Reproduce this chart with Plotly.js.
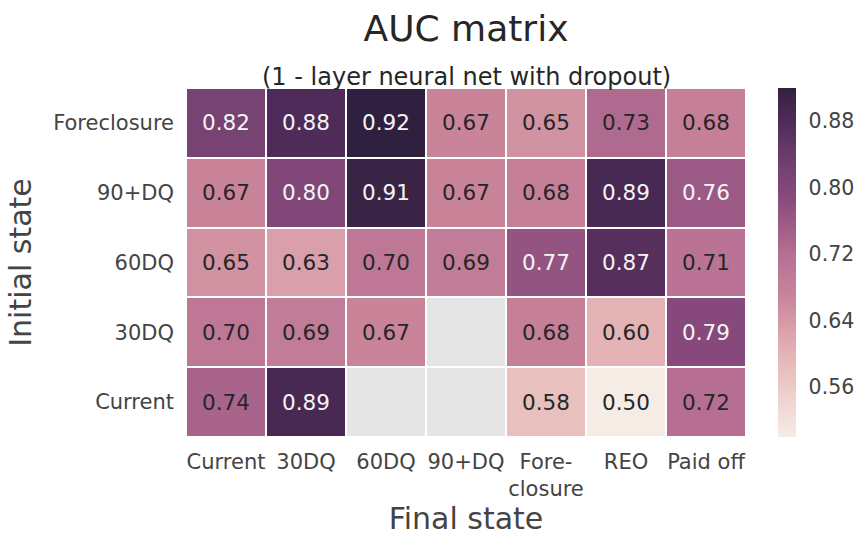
<!DOCTYPE html>
<html>
<head>
<meta charset="utf-8">
<script src="https://cdn.plot.ly/plotly-3.0.1.min.js"></script>
<style>html,body{margin:0;padding:0;background:#fff;}#chart{width:859px;height:536px;}</style>
</head>
<body>
<div id="chart"></div>
<script>
const finalStates = ['Current', '30DQ', '60DQ', '90+DQ', 'Fore-<br>closure', 'REO', 'Paid off'];
const initialStates = ['Foreclosure', '90+DQ', '60DQ', '30DQ', 'Current'];
const aucForeclosure = [0.82, 0.88, 0.92, 0.67, 0.65, 0.73, 0.68];
const auc90DQ        = [0.67, 0.80, 0.91, 0.67, 0.68, 0.89, 0.76];
const auc60DQ        = [0.65, 0.63, 0.70, 0.69, 0.77, 0.87, 0.71];
const auc30DQ        = [0.70, 0.69, 0.67, null, 0.68, 0.60, 0.79];
const aucCurrent     = [0.74, 0.89, null, null, 0.58, 0.50, 0.72];
const colorbarTicks = [0.56, 0.64, 0.72, 0.80, 0.88];

const z = [aucForeclosure, auc90DQ, auc60DQ, auc30DQ, aucCurrent];
const zmin = 0.50, zmax = 0.92;
const cs = [
  [0.00, '#f6ece6'],
  [0.19, '#e8c0bd'],
  [0.24, '#e4b3b5'],
  [0.405, '#c9849a'],
  [0.524, '#b66f92'],
  [0.69, '#87497b'],
  [0.762, '#764373'],
  [0.905, '#4f2b59'],
  [0.976, '#3a2446'],
  [1.00, '#30203f']
];

const mask = z.map(r => r.map(v => v === null ? 1 : null));

const traces = [
  {
    type: 'heatmap', x: finalStates, y: initialStates, z: mask,
    colorscale: [[0, '#e5e5e5'], [1, '#e5e5e5']], showscale: false,
    xgap: 2, ygap: 2, hoverinfo: 'skip'
  },
  {
    type: 'heatmap', x: finalStates, y: initialStates, z: z,
    zmin: zmin, zmax: zmax, colorscale: cs, xgap: 2, ygap: 2,
    colorbar: {
      x: 1.057, xanchor: 'left', xpad: 0, y: 0.5, yanchor: 'middle', ypad: 0,
      len: 1, lenmode: 'fraction', thickness: 18, outlinewidth: 0,
      tickvals: colorbarTicks, ticktext: colorbarTicks.map(v => v.toFixed(2)),
      ticks: 'outside', ticklen: 9, tickcolor: 'rgba(0,0,0,0)',
      tickfont: {family: 'DejaVu Sans', size: 20.5, color: '#444'}
    }
  }
];

const annotations = [];
z.forEach((row, i) => row.forEach((v, j) => {
  if (v === null) return;
  annotations.push({
    x: finalStates[j], y: initialStates[i], xref: 'x', yref: 'y',
    text: v.toFixed(2), showarrow: false,
    font: {family: 'DejaVu Sans', size: 21.5, color: v >= 0.755 ? '#f5f5f5' : '#262626'}
  });
}));
annotations.push({
  x: 0.5, y: 1 + 11 / 349, xref: 'paper', yref: 'paper', xanchor: 'center', yanchor: 'middle',
  text: '(1 - layer neural net with dropout)', showarrow: false,
  font: {family: 'DejaVu Sans', size: 24, color: '#262626'}
});

const layout = {
  width: 859, height: 536,
  margin: {l: 186, r: 113, t: 88, b: 99, autoexpand: false},
  paper_bgcolor: '#ffffff', plot_bgcolor: '#ffffff',
  title: {
    text: 'AUC matrix', x: 0.5, xref: 'paper', xanchor: 'center',
    y: 1 - 28 / 536, yanchor: 'middle',
    font: {family: 'DejaVu Sans', size: 36, color: '#262626'}
  },
  xaxis: {
    type: 'category', showgrid: false, zeroline: false, ticks: '', showline: false,
    tickangle: 0,
    tickfont: {family: 'DejaVu Sans', size: 21, color: '#444'}, ticklabelstandoff: 10,
    title: {text: 'Final state', standoff: 6, font: {family: 'DejaVu Sans', size: 30, color: '#444'}},
    automargin: false
  },
  yaxis: {
    type: 'category', autorange: 'reversed', showgrid: false, zeroline: false, ticks: '', showline: false,
    tickfont: {family: 'DejaVu Sans', size: 21, color: '#444'}, ticklabelstandoff: 11,
    title: {text: 'Initial state', standoff: 12, font: {family: 'DejaVu Sans', size: 30, color: '#444'}},
    automargin: false
  },
  annotations: annotations
};

Plotly.newPlot('chart', traces, layout, {displayModeBar: false, staticPlot: true});
</script>
</body>
</html>
